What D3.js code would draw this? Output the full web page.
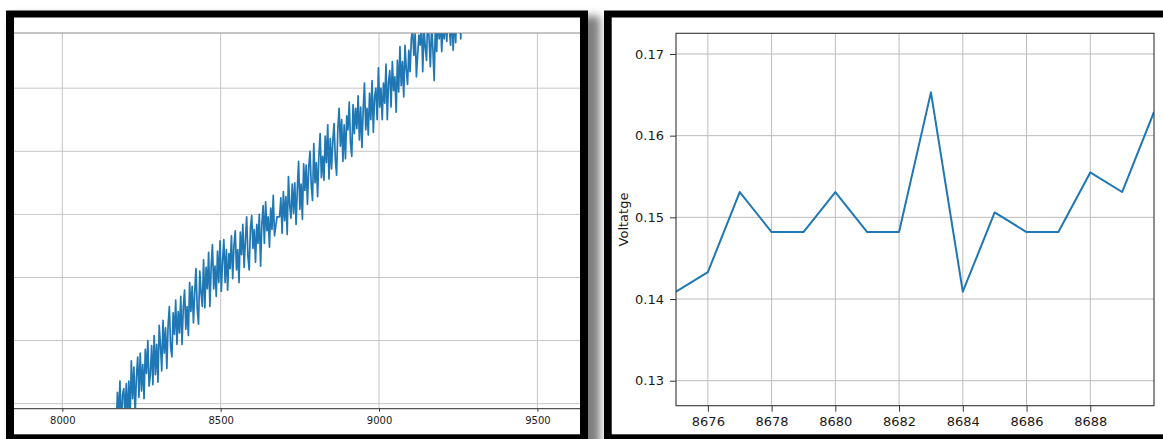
<!DOCTYPE html>
<html><head><meta charset="utf-8">
<script src="https://cdn.jsdelivr.net/npm/d3@7"></script>
<style>
body{margin:0;background:#fff}
svg{display:block}
text{font-family:"DejaVu Sans",sans-serif}
</style>
</head><body>
<svg id="c" width="1163" height="439"></svg>
<script>
// ---------- DATA ----------
// Left panel: long voltage record, one value every 4 samples starting at sample 8130
const leftStart = 8130;
const leftStep = 4;
const leftValues = [
-0.008,-0.034,-0.012,-0.022,-0.010,-0.031,-0.014,-0.030,-0.006,-0.011,
-0.023,0.009,-0.012,0.018,-0.023,0.007,0.012,-0.009,0.016,-0.013,
0.018,-0.011,0.034,0.004,0.029,-0.009,0.021,0.037,0.005,0.040,
0.010,0.031,0.004,0.043,0.024,0.050,0.014,0.023,0.046,0.015,
0.054,0.023,0.047,0.017,0.062,0.046,0.026,0.066,0.040,0.060,
0.028,0.062,0.077,0.045,0.037,0.072,0.055,0.082,0.047,0.073,
0.056,0.085,0.047,0.076,0.090,0.059,0.077,0.054,0.096,0.073,
0.093,0.064,0.088,0.107,0.075,0.063,0.105,0.088,0.077,0.114,
0.076,0.108,0.091,0.120,0.077,0.109,0.126,0.091,0.109,0.085,
0.121,0.096,0.129,0.089,0.113,0.130,0.096,0.122,0.090,0.119,
0.107,0.133,0.099,0.125,0.137,0.106,0.122,0.096,0.136,0.118,
0.142,0.108,0.129,0.148,0.117,0.106,0.139,0.149,0.123,0.138,
0.112,0.142,0.127,0.150,0.109,0.142,0.157,0.127,0.160,0.137,
0.148,0.124,0.155,0.138,0.165,0.133,0.141,0.148,0.148,0.148,
0.163,0.135,0.168,0.145,0.164,0.134,0.180,0.157,0.147,0.174,
0.151,0.175,0.142,0.170,0.192,0.154,0.174,0.146,0.190,0.169,
0.189,0.158,0.187,0.200,0.173,0.161,0.206,0.175,0.191,0.164,
0.196,0.214,0.179,0.196,0.177,0.212,0.191,0.221,0.178,0.210,
0.186,0.208,0.222,0.194,0.181,0.218,0.234,0.204,0.225,0.192,
0.221,0.194,0.228,0.217,0.239,0.206,0.196,0.237,0.214,0.234,
0.218,0.244,0.209,0.235,0.203,0.233,0.254,0.217,0.234,0.213,
0.246,0.225,0.256,0.215,0.243,0.250,0.225,0.266,0.235,0.250,
0.225,0.254,0.238,0.269,0.225,0.255,0.264,0.235,0.271,0.248,
0.259,0.231,0.272,0.247,0.283,0.252,0.271,0.243,0.284,0.265,
0.253,0.280,0.263,0.289,0.297,0.276,0.293,0.259,0.277,0.292,
0.284,0.302,0.263,0.298,0.282,0.272,0.311,0.289,0.267,0.300,
0.281,0.256,0.301,0.279,0.309,0.289,0.303,0.279,0.302,0.289,
0.305,0.287,0.315,0.297,0.284,0.314,0.280,0.310,0.286,0.321,
0.303,0.322,0.289,0.327,0.318,0.304,0.332,0.313,0.329,0.316,
0.333,0.314,0.328,0.340,0.321,0.335,0.316,0.333
];
const leftXTicks = [8000, 8500, 9000, 9500];
const leftYGrid = [0, 0.05, 0.1, 0.15, 0.2, 0.25];

// Right panel: zoomed view, samples 8675..8690
const rightX = [8675,8676,8677,8678,8679,8680,8681,8682,8683,8684,8685,8686,8687,8688,8689,8690];
const rightValues = [0.1409,0.1433,0.1531,0.1482,0.1482,0.1531,0.1482,0.1482,0.1653,0.1409,0.1506,0.1482,0.1482,0.1555,0.1531,0.1629];
const rightXTicks = [8676,8678,8680,8682,8684,8686,8688];
const rightYTicks = [0.13,0.14,0.15,0.16,0.17];
const rightYLabel = "Voltatge";

// ---------- DRAW ----------
const svg = d3.select("#c");
const defs = svg.append("defs");
const f = defs.append("filter").attr("id","sh").attr("x","-10%").attr("y","-10%").attr("width","120%").attr("height","120%");
f.append("feGaussianBlur").attr("stdDeviation",4);
defs.append("clipPath").attr("id","clipL").append("rect")
  .attr("x",14).attr("y",33).attr("width",566).attr("height",375.7);
defs.append("clipPath").attr("id","clipR").append("rect")
  .attr("x",676).attr("y",33.3).attr("width",478).attr("height",372.4);

// shadow + frames
svg.append("rect").attr("x",12).attr("y",16).attr("width",588).attr("height",440)
  .attr("fill","#000").attr("opacity",0.5).attr("filter","url(#sh)");
svg.append("rect").attr("x",6).attr("y",10.5).attr("width",582).attr("height",440).attr("fill","#000");
svg.append("rect").attr("x",14).attr("y",17.5).attr("width",566).attr("height",416.8).attr("fill","#fff");

svg.append("rect").attr("x",604).attr("y",10.5).attr("width",600).attr("height",440).attr("fill","#000");
svg.append("rect").attr("x",611.7).attr("y",17.5).attr("width",600).attr("height",416.8).attr("fill","#fff");

// ----- Left panel -----
const lx = d3.scaleLinear().domain([7847.5, 9634.5]).range([14, 580]);
const ly = d3.scaleLinear().domain([-0.00396, 0.2937]).range([408.7, 33]);
const gL = svg.append("g");
gL.selectAll("line.vg").data(leftXTicks).join("line")
  .attr("x1",d=>lx(d)).attr("x2",d=>lx(d)).attr("y1",33).attr("y2",408.7)
  .attr("stroke","#c4c4c4").attr("stroke-width",1);
gL.selectAll("line.hg").data(leftYGrid).join("line").attr("class","hg")
  .attr("x1",14).attr("x2",580).attr("y1",d=>ly(d)).attr("y2",d=>ly(d))
  .attr("stroke","#c4c4c4").attr("stroke-width",1);
const lineL = d3.line().x((d,i)=>lx(leftStart+i*leftStep)).y(d=>ly(d));
gL.append("path").datum(leftValues).attr("d",lineL).attr("clip-path","url(#clipL)")
  .attr("fill","none").attr("stroke","#1f77b4").attr("stroke-width",1.7).attr("stroke-linejoin","round");
gL.append("line").attr("x1",14).attr("x2",580).attr("y1",33).attr("y2",33)
  .attr("stroke","#8a8a8a").attr("stroke-width",1);
gL.append("line").attr("x1",14).attr("x2",580).attr("y1",408.7).attr("y2",408.7)
  .attr("stroke","#555").attr("stroke-width",1.2);
const axL = gL.append("g").attr("transform","translate(0,408.7)")
  .call(d3.axisBottom(lx).tickValues(leftXTicks).tickSize(3).tickPadding(5).tickFormat(d3.format("d")));
axL.select(".domain").remove();
axL.selectAll("line").attr("stroke","#333");
axL.selectAll("text").attr("font-size",10).attr("fill","#222").attr("font-family","DejaVu Sans");

// ----- Right panel -----
const rx = d3.scaleLinear().domain([8675, 8690]).range([676, 1154]);
const ry = d3.scaleLinear().domain([0.12694, 0.17253]).range([405.7, 33.3]);
const gR = svg.append("g");
gR.selectAll("line.vg").data(rightXTicks).join("line")
  .attr("x1",d=>rx(d)).attr("x2",d=>rx(d)).attr("y1",33.3).attr("y2",405.7)
  .attr("stroke","#bcbcbc").attr("stroke-width",1);
gR.selectAll("line.hg").data(rightYTicks).join("line").attr("class","hg")
  .attr("x1",676).attr("x2",1154).attr("y1",d=>ry(d)).attr("y2",d=>ry(d))
  .attr("stroke","#bcbcbc").attr("stroke-width",1);
const lineR = d3.line().x((d,i)=>rx(rightX[i])).y(d=>ry(d));
gR.append("path").datum(rightValues).attr("d",lineR).attr("clip-path","url(#clipR)")
  .attr("fill","none").attr("stroke","#1f77b4").attr("stroke-width",2).attr("stroke-linejoin","round");
gR.append("rect").attr("x",676).attr("y",33.3).attr("width",478).attr("height",372.4)
  .attr("fill","none").attr("stroke","#333").attr("stroke-width",1.1);
const axRX = gR.append("g").attr("transform","translate(0,405.7)")
  .call(d3.axisBottom(rx).tickValues(rightXTicks).tickSize(6).tickPadding(5).tickFormat(d3.format("d")));
const axRY = gR.append("g").attr("transform","translate(676,0)")
  .call(d3.axisLeft(ry).tickValues(rightYTicks).tickSize(6).tickPadding(6).tickFormat(d3.format(".2f")));
[axRX, axRY].forEach(a=>{
  a.select(".domain").remove();
  a.selectAll("line").attr("stroke","#333");
  a.selectAll("text").attr("font-size",13).attr("fill","#1a1a1a").attr("font-family","DejaVu Sans");
});
gR.append("text").attr("transform","translate(628,219.5) rotate(-90)")
  .attr("text-anchor","middle").attr("font-size",13).attr("fill","#1a1a1a").text(rightYLabel);
</script>
</body></html>
